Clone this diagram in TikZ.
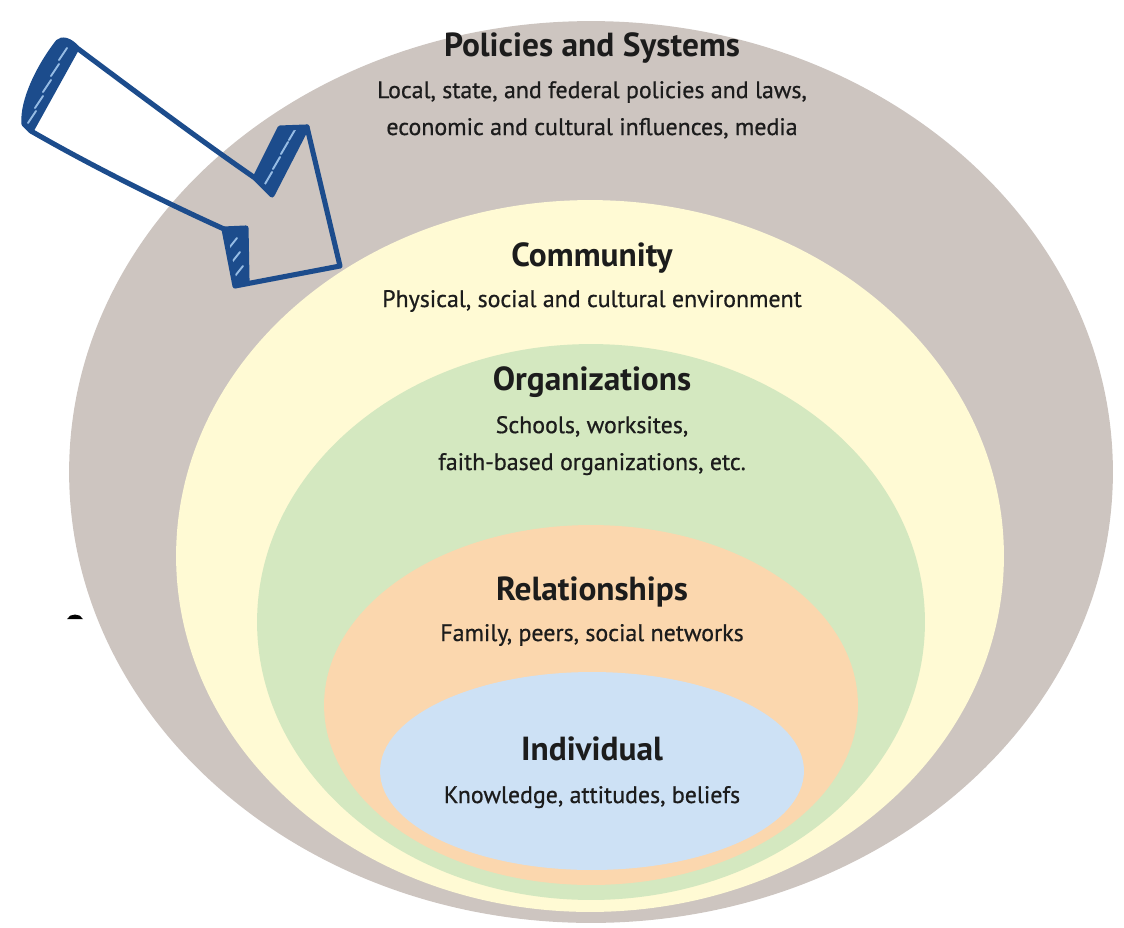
\documentclass[tikz,border=0pt]{standalone}
\usepackage{fontspec}
\setmainfont{PT Sans}
\newfontfamily\descfont[FakeBold=0.7]{PT Sans}
\usetikzlibrary{shapes.geometric}
\definecolor{cgrey}{RGB}{205,197,192}
\definecolor{cyellow}{RGB}{255,250,212}
\definecolor{cgreen}{RGB}{212,232,192}
\definecolor{corange}{RGB}{251,215,174}
\definecolor{cblue}{RGB}{205,225,245}
\definecolor{arrowblue}{RGB}{28,76,140}
\definecolor{hatchblue}{RGB}{150,188,228}
\definecolor{txt}{RGB}{28,28,28}
\begin{document}
\begin{tikzpicture}[x=0.02cm,y=0.02cm,
  layer/.style={ellipse, inner sep=0pt, draw=none},
  ttl/.style={anchor=base, inner sep=0pt, font=\fontsize{19}{22}\selectfont\bfseries, text=txt},
  dsc/.style={anchor=base, inner sep=0pt, font=\descfont\fontsize{13.6}{21}\selectfont, text=txt, align=center},
  arrowline/.style={draw=arrowblue, line width=2.9pt, line join=round, line cap=round},
  bandfill/.style={fill=arrowblue},
  hatch/.style={draw=hatchblue, line width=1.1pt, line cap=round}
]
\useasboundingbox (0,0) rectangle (1124,-927);

% nested layers
\node[layer, fill=cgrey,   minimum width=20.88cm, minimum height=18.04cm] (policies) at (591,-472) {};
\node[layer, fill=cyellow, minimum width=16.56cm, minimum height=14.24cm] (community) at (590,-556) {};
\node[layer, fill=cgreen,  minimum width=13.36cm, minimum height=11.12cm] (organizations) at (591,-622) {};
\node[layer, fill=corange, minimum width=10.68cm, minimum height=7.20cm] (relationships) at (591,-705) {};
\node[layer, fill=cblue,   minimum width=8.48cm,  minimum height=3.96cm] (individual) at (592,-771) {};

% texts (multi-line nodes are anchored at the baseline of their last line)
\node[ttl] (t1) at (592,-56) {Policies and Systems};
\node[dsc] (d1) at (592,-135) {Local, state, and federal policies and laws,\\economic and cultural influences, media};
\node[ttl] (t2) at (592,-266) {Community};
\node[dsc] (d2) at (592,-307) {Physical, social and cultural environment};
\node[ttl] (t3) at (592,-390) {Organizations};
\node[dsc] (d3) at (592,-470) {Schools, worksites,\\faith-based organizations, etc.};
\node[ttl] (t4) at (592,-600) {Relationships};
\node[dsc] (d4) at (592,-641) {Family, peers, social networks};
\node[ttl] (t5) at (592,-760) {Individual};
\node[dsc] (d5) at (592,-803) {Knowledge, attitudes, beliefs};

% small mark at left
\fill[black] (67,-619) .. controls (70,-613) and (80,-613) .. (83,-619) -- cycle;

% hand-drawn arrow: filled bands first
\fill[bandfill] (77,-48) .. controls (70,-40) and (62,-38) .. (58,-42)
  .. controls (40,-65) and (22,-100) .. (24,-124) -- (31,-131) -- cycle;
\fill[bandfill] (255,-178) -- (280,-128) -- (307,-127) -- (272,-195) -- cycle;
\fill[bandfill] (224,-229) -- (246,-228) -- (247,-281) -- (235,-286) -- cycle;
% hatching
\foreach \cx/\cy in {63/-54, 55/-70, 47/-86, 39/-102, 32/-117}
  \draw[hatch] (\cx-4,\cy-6) -- (\cx+4,\cy+6);
\foreach \cx/\cy in {268/-178, 276/-163, 284/-148, 292/-134}
  \draw[hatch] (\cx-3,\cy-6) -- (\cx+4,\cy+6);
\foreach \cx/\cy in {233/-243, 236/-257, 239/-271}
  \draw[hatch] (\cx-4,\cy-5) -- (\cx+4,\cy+5);
% outlines
\draw[arrowline] (77,-48) .. controls (140,-95) and (200,-140) .. (255,-178)
  -- (280,-128) -- (307,-127) -- (340,-266) -- (235,-286) -- (224,-229)
  .. controls (160,-200) and (90,-165) .. (31,-131);
\draw[arrowline] (77,-48) .. controls (70,-40) and (62,-38) .. (58,-42)
  .. controls (40,-65) and (22,-100) .. (24,-124) -- (31,-131) -- cycle;
\draw[arrowline] (255,-178) -- (272,-195) -- (307,-127);
\draw[arrowline] (224,-229) -- (246,-228) -- (247,-281);
\end{tikzpicture}
\end{document}
